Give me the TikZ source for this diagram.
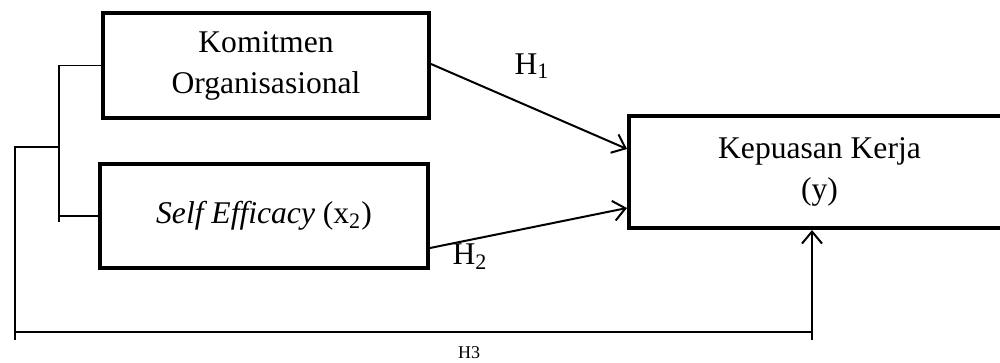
\documentclass[tikz,border=0pt]{standalone}
\usepackage{fontspec}
\setmainfont{Liberation Serif}
\usetikzlibrary{arrows.meta,calc}
\begin{document}
\begin{tikzpicture}[x=0.5pt,y=-0.5pt,
  box/.style={draw,line width=2pt,inner sep=0pt,align=center,font=\fontsize{15.8}{20.5}\selectfont},
  lbl/.style={inner sep=0pt,font=\fontsize{15.8}{19}\selectfont},
  thinline/.style={line width=0.8pt},
  arr/.style={line width=1pt,-{Straight Barb[length=6pt,width=10pt,line width=1pt]}}]
\useasboundingbox (0,0) rectangle (1000,363);
\node[box,minimum width=163pt,minimum height=52.5pt] (ko) at (266,65.5) {Komitmen\\Organisasional};
\node[box,minimum width=164pt,minimum height=52pt] (se) at (264,216) {\textit{Self Efficacy} (x\textsubscript{2})};
\node[box,minimum width=190.5pt,minimum height=56pt] (ky) at (819.5,172) {Kepuasan Kerja\\(y)};
% hypotheses arrows
\draw[arr] ($(ko.east)+(0,-1.5)$) -- ($(ky.west)+(0,-23)$);
\draw[arr] ($(se.east)+(0,32)$) -- ($(ky.west)+(0,36)$);
\node[lbl] (h1) at (532,66) {H\textsubscript{1}};
\node[lbl] (h2) at (470,257) {H\textsubscript{2}};
% bracket lines
\coordinate (jb) at (59,222);
\draw[thinline] (ko.west) -- (ko.west -| jb) -- (jb);
\draw[thinline] (se.west) -- (se.west -| jb);
\coordinate (om) at (59,147);
\coordinate (ob) at (15,340);
\draw[thinline] (om) -- (om -| ob) -- (ob);
\coordinate (bl) at (15,332);
\coordinate (br) at (812,340);
\draw[thinline] (bl) -- (bl -| br);
\draw[arr,line width=0.8pt] (br) -- (br |- ky.south);
\node[inner sep=0pt,font=\fontsize{9}{10}\selectfont] (h3) at (469,353) {H3};
\end{tikzpicture}
\end{document}
